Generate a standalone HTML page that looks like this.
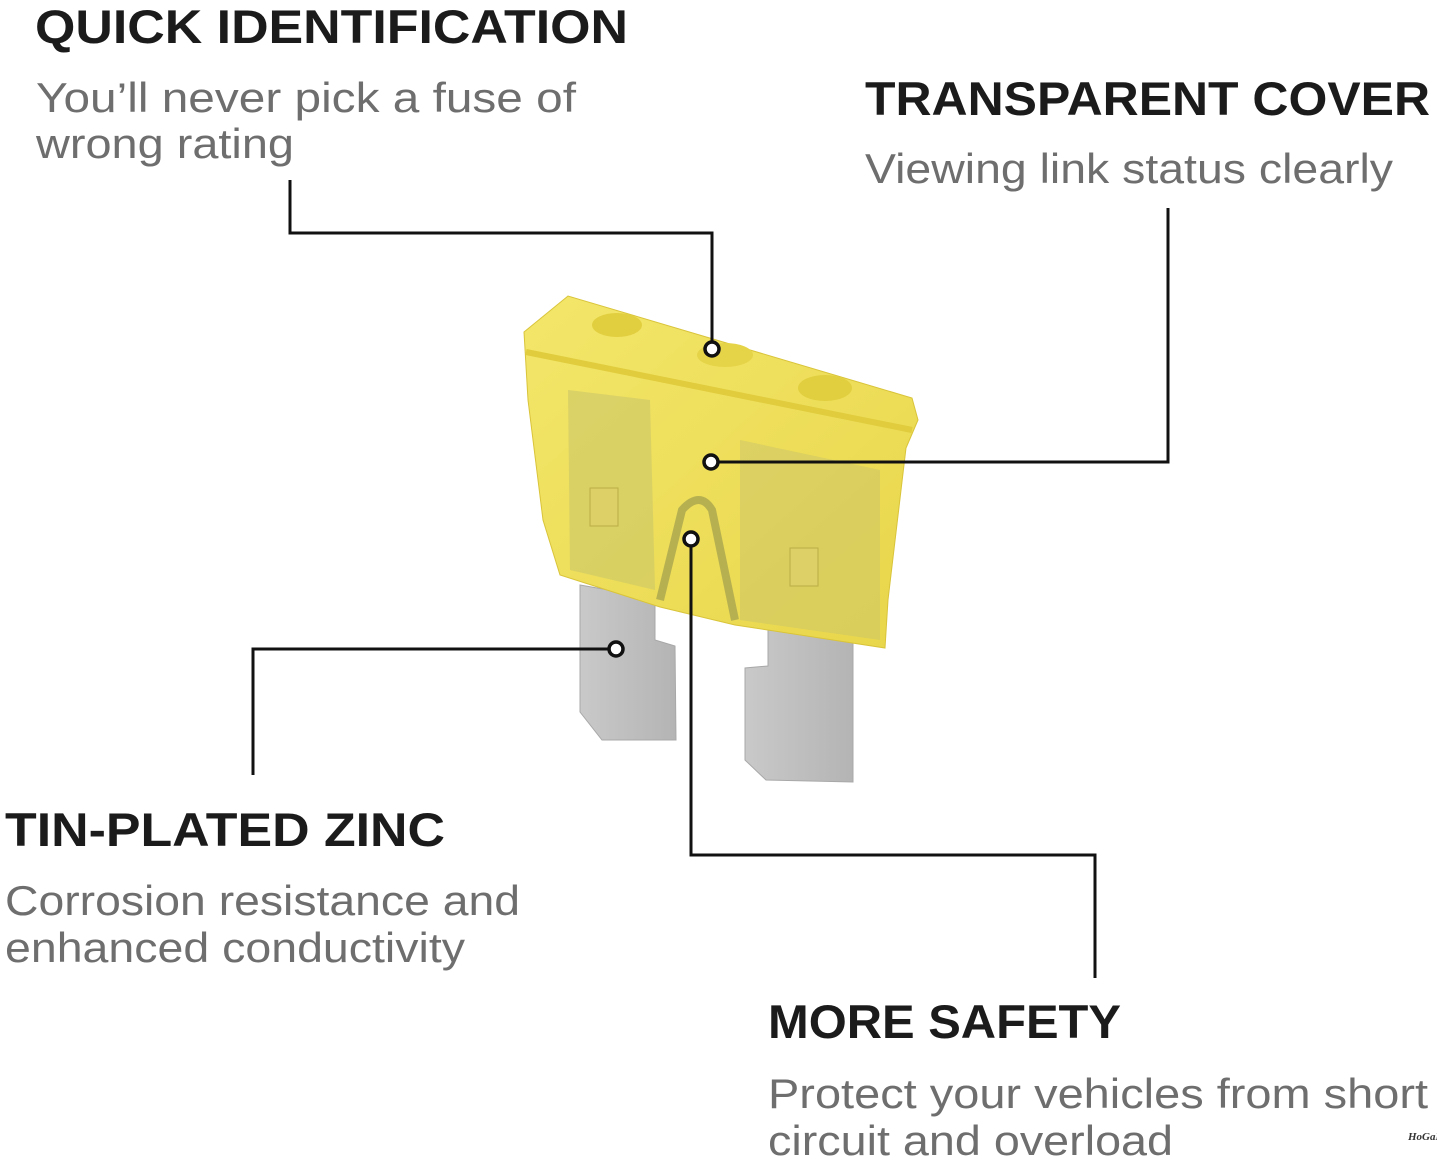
<!DOCTYPE html>
<html><head><meta charset="utf-8"><style>html,body{margin:0;padding:0;background:#fff}svg{display:block}</style></head>
<body>
<svg width="1437" height="1164" viewBox="0 0 1437 1164" xmlns="http://www.w3.org/2000/svg">
<defs>
<linearGradient id="y" x1="0" y1="0" x2="1" y2="1"><stop offset="0" stop-color="#f3e66a"/><stop offset="1" stop-color="#e8d64a"/></linearGradient>
<linearGradient id="m" x1="0" y1="0" x2="1" y2="0"><stop offset="0" stop-color="#c9c9c9"/><stop offset="1" stop-color="#b4b4b4"/></linearGradient>
</defs>
<g font-family="Liberation Sans, sans-serif">
<g font-weight="bold" fill="#1b1b1b" font-size="47">
<text x="35" y="43" textLength="593" lengthAdjust="spacingAndGlyphs">QUICK IDENTIFICATION</text>
<text x="865" y="115" textLength="565" lengthAdjust="spacingAndGlyphs">TRANSPARENT COVER</text>
<text x="5" y="846" textLength="440" lengthAdjust="spacingAndGlyphs">TIN-PLATED ZINC</text>
<text x="768" y="1038" textLength="353" lengthAdjust="spacingAndGlyphs">MORE SAFETY</text>
</g>
<g fill="#6e6e6e" font-size="42">
<text x="36" y="112" textLength="540" lengthAdjust="spacingAndGlyphs">You’ll never pick a fuse of</text>
<text x="36" y="158" textLength="258" lengthAdjust="spacingAndGlyphs">wrong rating</text>
<text x="865" y="183" textLength="528" lengthAdjust="spacingAndGlyphs">Viewing link status clearly</text>
<text x="5" y="915" textLength="515" lengthAdjust="spacingAndGlyphs">Corrosion resistance and</text>
<text x="5" y="962" textLength="460" lengthAdjust="spacingAndGlyphs">enhanced conductivity</text>
<text x="768" y="1108" textLength="660" lengthAdjust="spacingAndGlyphs">Protect your vehicles from short</text>
<text x="768" y="1155" textLength="405" lengthAdjust="spacingAndGlyphs">circuit and overload</text>
</g>
</g>
<!-- blades -->
<path d="M580,585 L655,598 L655,640 L675,646 L676,740 L602,740 L580,712 Z" fill="url(#m)" stroke="#a8a8a8"/>
<path d="M768,625 L853,640 L853,782 L766,780 L745,760 L745,668 L768,666 Z" fill="url(#m)" stroke="#a8a8a8"/>
<!-- body -->
<path d="M524,332 L568,296 L912,398 L918,420 L906,448 L888,600 L885,648 L735,625 L660,607 L560,575 L543,520 L528,400 Z" fill="url(#y)" stroke="#d9c43a"/>
<path d="M526,352 L912,430" stroke="#e0cc3c" stroke-width="6" fill="none"/>
<path d="M568,390 L650,400 L655,590 L570,570 Z" fill="#c9c46a" opacity="0.55"/>
<path d="M740,440 L880,470 L880,640 L740,620 Z" fill="#c9c46a" opacity="0.5"/>
<path d="M660,600 L682,510 Q700,490 712,510 L735,620" stroke="#b7b050" stroke-width="8" fill="none"/>
<ellipse cx="617" cy="325" rx="25" ry="12" fill="#e2cf40"/>
<ellipse cx="725" cy="355" rx="28" ry="12" fill="#e6d448"/>
<ellipse cx="825" cy="388" rx="27" ry="13" fill="#e2cf40"/>
<rect x="590" y="488" width="28" height="38" fill="#ddd067" stroke="#b9ad45"/>
<rect x="790" y="548" width="28" height="38" fill="#ddd067" stroke="#b9ad45"/>
<!-- connectors -->
<g stroke="#111" stroke-width="3" fill="none">
<polyline points="290,180 290,233 712,233 712,342"/>
<polyline points="718,462 1168,462 1168,208"/>
<polyline points="610,649 253,649 253,775"/>
<polyline points="691,545 691,855 1095,855 1095,978"/>
</g>
<g stroke="#111" stroke-width="3.5" fill="#fff">
<circle cx="712" cy="349" r="7"/>
<circle cx="711" cy="462" r="7"/>
<circle cx="691" cy="539" r="7"/>
<circle cx="616" cy="649" r="7"/>
</g>
<text x="1408" y="1140" font-family="Liberation Serif, serif" font-style="italic" font-weight="bold" font-size="11" fill="#333">HoGaKi</text>
</svg>
</body></html>
